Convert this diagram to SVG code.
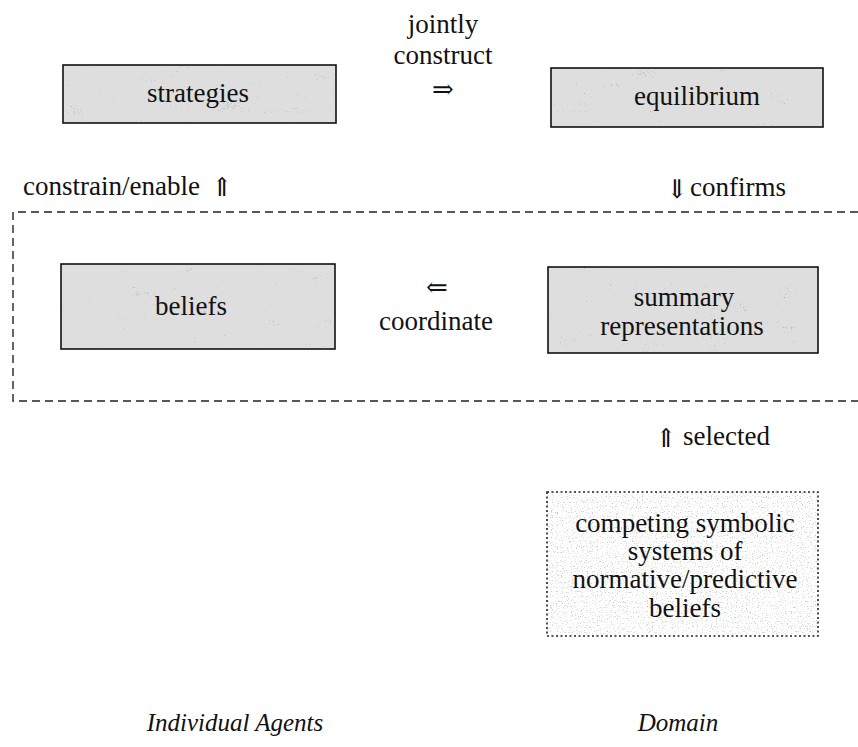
<svg xmlns="http://www.w3.org/2000/svg" width="858" height="747" viewBox="0 0 858 747">
<style>
  text { font-size: 27px; fill: #111; }
  .mid { text-anchor: middle; }
  .arrow { font-size: 26px; }
  .ital { font-style: italic; font-size: 25px; }
  .box { fill: #dedede; }
  .frame { fill: none; stroke: #111; stroke-width: 1.6; }
  .grain { fill: #fff; filter: url(#speck); }
  .dash { fill: none; stroke: #222; stroke-width: 1.4; stroke-dasharray: 8 5; }
  .dot { fill: none; stroke: #222; stroke-width: 1.6; stroke-dasharray: 2 2.5; }
</style>
<defs>
  <filter id="speck" x="0" y="0" width="1" height="1">
    <feTurbulence type="fractalNoise" baseFrequency="0.7" numOctaves="2" seed="7" result="fine"/>
    <feTurbulence type="fractalNoise" baseFrequency="0.03 0.06" numOctaves="2" seed="2" result="coarse"/>
    <feComposite in="fine" in2="coarse" operator="arithmetic" k1="0" k2="1.4" k3="1.2" k4="-0.8" result="mix"/>
    <feColorMatrix in="mix" type="matrix" values="0 0 0 0 0.45  0 0 0 0 0.45  0 0 0 0 0.45  3.5 0 0 0 -1.0" result="dots"/>
    <feComposite in="dots" in2="SourceGraphic" operator="in"/>
  </filter>
  <filter id="speckLight" x="0" y="0" width="1" height="1">
    <feTurbulence type="fractalNoise" baseFrequency="0.8" numOctaves="2" seed="11" result="fine"/>
    <feColorMatrix in="fine" type="matrix" values="0 0 0 0 0.6  0 0 0 0 0.6  0 0 0 0 0.6  5 0 0 0 -2.9" result="dots"/>
    <feComposite in="dots" in2="SourceGraphic" operator="in"/>
  </filter>
</defs>

<rect width="858" height="747" fill="#fff"/>

<g id="domain-frame">
  <path class="dash" d="M858 212 H13 V401 H858"/>
</g>

<g id="strategies" font-family="Liberation Serif, Times New Roman, serif">
  <rect class="box" x="63" y="65" width="273" height="58"/>
  <rect class="grain" x="63" y="65" width="273" height="58"/>
  <rect class="frame" x="63" y="65" width="273" height="58"/>
  <text class="mid" x="198" y="102">strategies</text>
</g>

<g id="equilibrium" font-family="Liberation Serif, Times New Roman, serif">
  <rect class="box" x="551" y="68" width="272" height="59"/>
  <rect class="grain" x="551" y="68" width="272" height="59"/>
  <rect class="frame" x="551" y="68" width="272" height="59"/>
  <text class="mid" x="697" y="105">equilibrium</text>
</g>

<g id="beliefs" font-family="Liberation Serif, Times New Roman, serif">
  <rect class="box" x="61" y="264" width="274" height="85"/>
  <rect class="grain" x="61" y="264" width="274" height="85"/>
  <rect class="frame" x="61" y="264" width="274" height="85"/>
  <text class="mid" x="191" y="315">beliefs</text>
</g>

<g id="summary-representations" font-family="Liberation Serif, Times New Roman, serif">
  <rect class="box" x="548" y="267" width="270" height="86"/>
  <rect class="grain" x="548" y="267" width="270" height="86"/>
  <rect class="frame" x="548" y="267" width="270" height="86"/>
  <text class="mid" x="684" y="306" font-size="26">summary</text>
  <text class="mid" x="682" y="335" font-size="26">representations</text>
</g>

<g id="competing-systems" font-family="Liberation Serif, Times New Roman, serif">
  <rect x="547" y="492" width="271" height="144" fill="#fff"/>
  <rect x="547" y="492" width="271" height="144" fill="#fff" filter="url(#speckLight)"/>
  <rect class="dot" x="547" y="492" width="271" height="144"/>
  <text class="mid" x="685" y="532">competing symbolic</text>
  <text class="mid" x="685" y="560">systems of</text>
  <text class="mid" x="685" y="588">normative/predictive</text>
  <text class="mid" x="685" y="617">beliefs</text>
</g>

<g id="connectors" font-family="DejaVu Serif, Liberation Serif, serif">
  <text class="arrow mid" x="443" y="98">⇒</text>
  <text class="arrow mid" x="222" y="196">⇑</text>
  <text class="arrow mid" x="677" y="198">⇓</text>
  <text class="arrow mid" x="437" y="296">⇐</text>
  <text class="arrow mid" x="666" y="447">⇑</text>
</g>

<g id="labels" font-family="Liberation Serif, Times New Roman, serif">
  <text class="mid" x="443" y="33">jointly</text>
  <text class="mid" x="443" y="64">construct</text>
  <text x="23" y="195">constrain/enable</text>
  <text x="690" y="196">confirms</text>
  <text class="mid" x="436" y="330">coordinate</text>
  <text x="683" y="445">selected</text>
  <text class="mid ital" x="235" y="731">Individual Agents</text>
  <text class="mid ital" x="678" y="731">Domain</text>
</g>
</svg>
